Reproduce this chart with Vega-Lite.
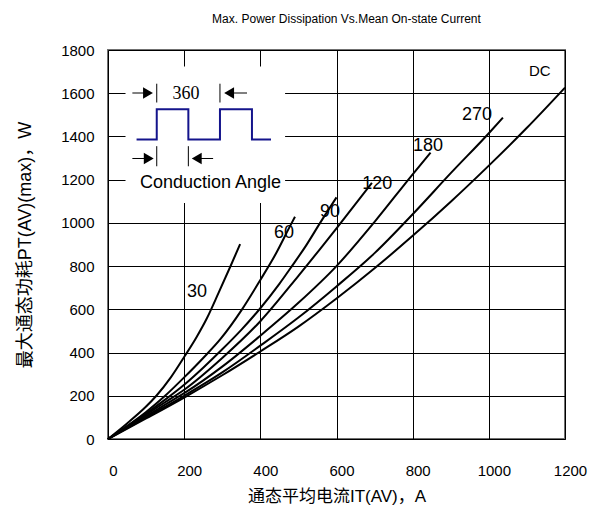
{
  "$schema": "https://vega.github.io/schema/vega-lite/v6.json",
  "width": 457,
  "height": 389,
  "autosize": {"type": "none"},
  "padding": {"left": 108, "top": 50, "right": 25, "bottom": 77},
  "title": {
    "text": "Max. Power Dissipation Vs.Mean On-state Current",
    "font": "Liberation Sans",
    "fontSize": 12,
    "fontWeight": "normal",
    "color": "#000",
    "offset": 17,
    "dx": 10
  },
  "datasets": {
    "curves": [
      {"angle": "30", "I": 0, "P": 0}, {"angle": "30", "I": 50, "P": 72}, {"angle": "30", "I": 100, "P": 150},
      {"angle": "30", "I": 127, "P": 200}, {"angle": "30", "I": 165, "P": 285}, {"angle": "30", "I": 202, "P": 385},
      {"angle": "30", "I": 232, "P": 470}, {"angle": "30", "I": 260, "P": 560}, {"angle": "30", "I": 290, "P": 675},
      {"angle": "30", "I": 321, "P": 797}, {"angle": "30", "I": 347, "P": 902},
      {"angle": "60", "I": 0, "P": 0}, {"angle": "60", "I": 50, "P": 60}, {"angle": "60", "I": 100, "P": 125},
      {"angle": "60", "I": 150, "P": 200}, {"angle": "60", "I": 200, "P": 285}, {"angle": "60", "I": 250, "P": 375},
      {"angle": "60", "I": 295, "P": 462}, {"angle": "60", "I": 352, "P": 600}, {"angle": "60", "I": 400, "P": 736},
      {"angle": "60", "I": 440, "P": 855}, {"angle": "60", "I": 478, "P": 985}, {"angle": "60", "I": 491, "P": 1028},
      {"angle": "90", "I": 0, "P": 0}, {"angle": "90", "I": 50, "P": 58}, {"angle": "90", "I": 100, "P": 118},
      {"angle": "90", "I": 150, "P": 182}, {"angle": "90", "I": 200, "P": 251}, {"angle": "90", "I": 250, "P": 330},
      {"angle": "90", "I": 300, "P": 415}, {"angle": "90", "I": 350, "P": 505}, {"angle": "90", "I": 400, "P": 605},
      {"angle": "90", "I": 450, "P": 718}, {"angle": "90", "I": 483, "P": 800}, {"angle": "90", "I": 520, "P": 895},
      {"angle": "90", "I": 557, "P": 1000}, {"angle": "90", "I": 600, "P": 1118},
      {"angle": "120", "I": 0, "P": 0}, {"angle": "120", "I": 50, "P": 56}, {"angle": "120", "I": 100, "P": 113},
      {"angle": "120", "I": 150, "P": 170}, {"angle": "120", "I": 200, "P": 228}, {"angle": "120", "I": 300, "P": 375},
      {"angle": "120", "I": 400, "P": 545}, {"angle": "120", "I": 500, "P": 755}, {"angle": "120", "I": 600, "P": 975},
      {"angle": "120", "I": 693, "P": 1185},
      {"angle": "180", "I": 0, "P": 0}, {"angle": "180", "I": 50, "P": 54}, {"angle": "180", "I": 100, "P": 106},
      {"angle": "180", "I": 150, "P": 159}, {"angle": "180", "I": 200, "P": 212}, {"angle": "180", "I": 300, "P": 335},
      {"angle": "180", "I": 400, "P": 478}, {"angle": "180", "I": 500, "P": 630}, {"angle": "180", "I": 600, "P": 800},
      {"angle": "180", "I": 700, "P": 1005}, {"angle": "180", "I": 800, "P": 1225}, {"angle": "180", "I": 847, "P": 1325},
      {"angle": "270", "I": 0, "P": 0}, {"angle": "270", "I": 100, "P": 100}, {"angle": "270", "I": 200, "P": 200},
      {"angle": "270", "I": 300, "P": 308}, {"angle": "270", "I": 400, "P": 432}, {"angle": "270", "I": 500, "P": 562},
      {"angle": "270", "I": 600, "P": 706}, {"angle": "270", "I": 700, "P": 860}, {"angle": "270", "I": 800, "P": 1040},
      {"angle": "270", "I": 900, "P": 1230}, {"angle": "270", "I": 1000, "P": 1415}, {"angle": "270", "I": 1037, "P": 1487},
      {"angle": "DC", "I": 0, "P": 0}, {"angle": "DC", "I": 100, "P": 95}, {"angle": "DC", "I": 200, "P": 192},
      {"angle": "DC", "I": 300, "P": 295}, {"angle": "DC", "I": 400, "P": 405}, {"angle": "DC", "I": 500, "P": 520},
      {"angle": "DC", "I": 600, "P": 650}, {"angle": "DC", "I": 700, "P": 790}, {"angle": "DC", "I": 800, "P": 940},
      {"angle": "DC", "I": 900, "P": 1098}, {"angle": "DC", "I": 1000, "P": 1265}, {"angle": "DC", "I": 1100, "P": 1440},
      {"angle": "DC", "I": 1200, "P": 1626}
    ],
    "labels": [
      {"label": "30", "I": 234, "P": 680},
      {"label": "60", "I": 462, "P": 953},
      {"label": "90", "I": 583, "P": 1049},
      {"label": "120", "I": 707, "P": 1182},
      {"label": "180", "I": 840, "P": 1356},
      {"label": "270", "I": 969, "P": 1498}
    ],
    "wave": [
      {"i": 0, "I": 75, "P": 1386}, {"i": 1, "I": 128, "P": 1386}, {"i": 2, "I": 128, "P": 1526},
      {"i": 3, "I": 211, "P": 1526}, {"i": 4, "I": 211, "P": 1386}, {"i": 5, "I": 294, "P": 1386},
      {"i": 6, "I": 294, "P": 1526}, {"i": 7, "I": 378, "P": 1526}, {"i": 8, "I": 378, "P": 1386},
      {"i": 9, "I": 428, "P": 1386}
    ],
    "segments": [
      {"I": 128, "I2": 128, "P": 1644, "P2": 1557},
      {"I": 294, "I2": 294, "P": 1644, "P2": 1557},
      {"I": 128, "I2": 128, "P": 1355, "P2": 1262},
      {"I": 211, "I2": 211, "P": 1355, "P2": 1262},
      {"I": 64, "I2": 103, "P": 1601, "P2": 1601},
      {"I": 323, "I2": 365, "P": 1601, "P2": 1601},
      {"I": 64, "I2": 106, "P": 1298, "P2": 1298},
      {"I": 237, "I2": 276, "P": 1298, "P2": 1298}
    ],
    "heads": [
      {"dir": "right", "I": 105, "P": 1601},
      {"dir": "left", "I": 318, "P": 1601},
      {"dir": "right", "I": 107, "P": 1298},
      {"dir": "left", "I": 233, "P": 1298}
    ]
  },
  "encoding": {
    "x": {
      "field": "I",
      "type": "quantitative",
      "scale": {"domain": [0, 1200], "nice": false},
      "axis": {
        "values": [0, 200, 400, 600, 800, 1000, 1200],
        "format": "d",
        "title": "通态平均电流IT(AV)，A",
        "titleFont": "Liberation Sans, Noto Sans CJK SC",
        "titleFontSize": 17,
        "titlePadding": 10,
        "labelPadding": 24,
        "labelOffset": 5,
        "labelFlush": false
      }
    },
    "y": {
      "field": "P",
      "type": "quantitative",
      "scale": {"domain": [0, 1800], "nice": false},
      "axis": {
        "values": [0, 200, 400, 600, 800, 1000, 1200, 1400, 1600, 1800],
        "format": "d",
        "title": "最大通态功耗PT(AV)(max)，W",
        "titleFont": "Liberation Sans, Noto Sans CJK SC",
        "titleFontSize": 18,
        "titlePadding": 26,
        "labelPadding": 14
      }
    }
  },
  "layer": [
    {
      "data": {"values": [{"I": 46, "I2": 465, "P": 1092, "P2": 1724}]},
      "mark": {"type": "rect", "fill": "white", "stroke": null},
      "encoding": {"x2": {"field": "I2"}, "y2": {"field": "P2"}}
    },
    {
      "data": {"name": "curves"},
      "mark": {"type": "line", "color": "black", "strokeWidth": 2, "interpolate": "monotone"},
      "encoding": {"detail": {"field": "angle", "type": "nominal"}}
    },
    {
      "data": {"name": "labels"},
      "mark": {"type": "text", "font": "Liberation Sans", "fontSize": 18, "color": "black", "align": "center", "baseline": "middle"},
      "encoding": {"text": {"field": "label"}}
    },
    {
      "data": {"values": [{"label": "DC", "I": 1134, "P": 1703}]},
      "mark": {"type": "text", "font": "Liberation Sans", "fontSize": 15, "color": "black", "align": "center", "baseline": "middle"},
      "encoding": {"text": {"field": "label"}}
    },
    {
      "data": {"name": "wave"},
      "mark": {"type": "line", "color": "#14148c", "strokeWidth": 2},
      "encoding": {"order": {"field": "i", "type": "quantitative"}}
    },
    {
      "data": {"name": "segments"},
      "mark": {"type": "rule", "color": "black", "strokeWidth": 1},
      "encoding": {"x2": {"field": "I2"}, "y2": {"field": "P2"}}
    },
    {
      "data": {"name": "heads"},
      "mark": {"type": "point", "filled": true, "color": "black", "size": 130, "opacity": 1},
      "encoding": {
        "shape": {
          "field": "dir",
          "type": "nominal",
          "scale": {"domain": ["right", "left"], "range": ["triangle-right", "triangle-left"]},
          "legend": null
        }
      }
    },
    {
      "data": {"values": [{"label": "360", "I": 205, "P": 1598}]},
      "mark": {"type": "text", "font": "Liberation Serif", "fontSize": 18, "color": "black", "align": "center", "baseline": "middle"},
      "encoding": {"text": {"field": "label"}}
    },
    {
      "data": {"values": [{"label": "Conduction Angle", "I": 269, "P": 1185}]},
      "mark": {"type": "text", "font": "Liberation Sans", "fontSize": 18, "color": "black", "align": "center", "baseline": "middle"},
      "encoding": {"text": {"field": "label"}}
    }
  ],
  "config": {
    "view": {"stroke": "#707070", "strokeWidth": 2},
    "axis": {
      "grid": true,
      "gridColor": "#000",
      "gridWidth": 1,
      "gridOpacity": 1,
      "ticks": false,
      "domain": false,
      "labelFont": "Liberation Sans",
      "labelFontSize": 15,
      "labelColor": "#000",
      "titleColor": "#000",
      "titleFontWeight": "normal"
    }
  }
}
